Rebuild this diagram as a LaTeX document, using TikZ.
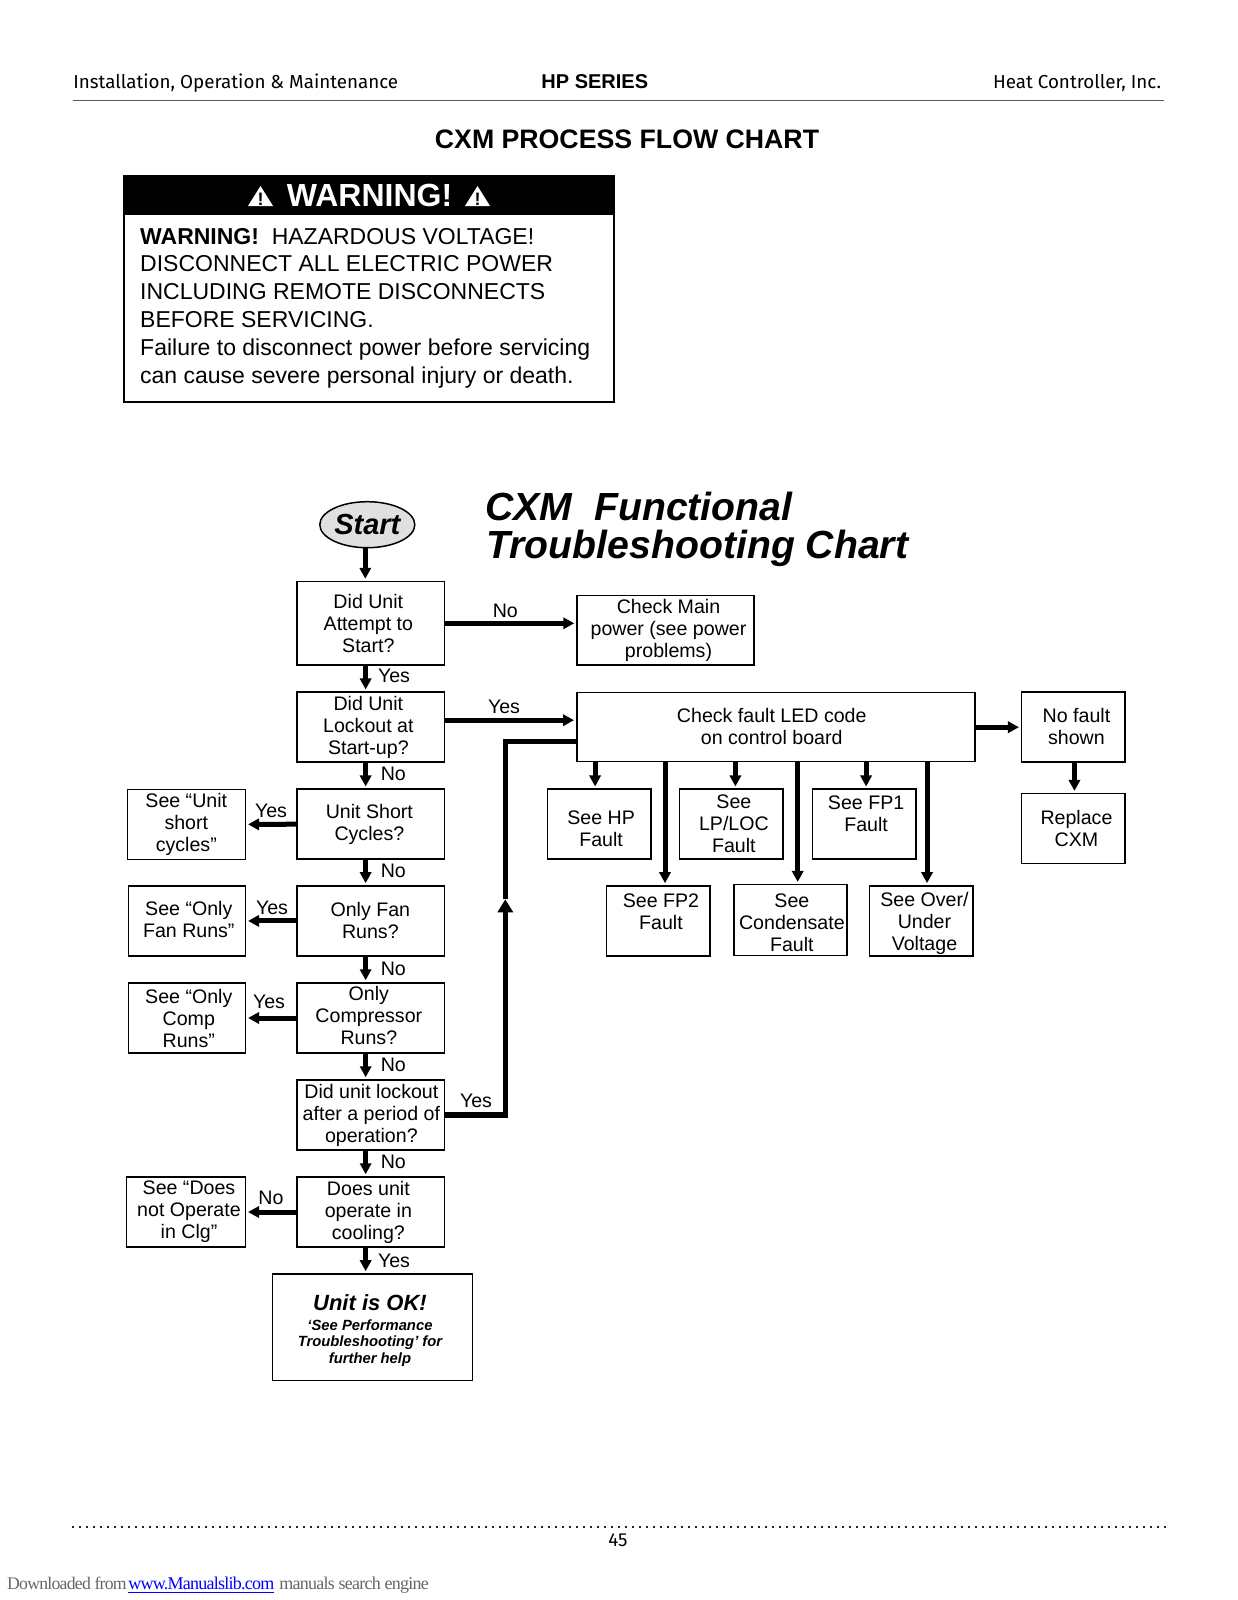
\documentclass[tikz,border=0pt]{standalone}
\usepackage{fontspec}
\setmainfont{Liberation Sans}
\newfontfamily\headfont{Fira Sans}
\newfontfamily\dlfont[LetterSpace=-4.2]{Liberation Serif}
\usepackage{xcolor}
\usetikzlibrary{shapes,shapes.geometric,arrows.meta,positioning,calc}

\begin{document}
\begin{tikzpicture}[
    x=0.5pt, y=-0.5pt,
    qbox/.style={rectangle, draw, line width=0.75pt, minimum width=73.85pt, minimum height=35pt, align=center, inner sep=0pt, font=\fontsize{9.8}{11}\selectfont},
    seebox/.style={qbox, minimum width=59pt},
    faultbox/.style={qbox, minimum width=51.75pt},
    tleft/.style={execute at end node={\kern#1pt\relax}},
    tright/.style={execute at begin node={\kern#1pt\relax}},
    note/.style={anchor=base, inner sep=0pt, font=\fontsize{9.8}{11}\selectfont},
    headtext/.style={anchor=base, inner sep=0pt, font=\fontsize{9.4}{11}\headfont},
    flow/.style={-{Triangle[length=5.5pt,width=5.6pt]}, line width=2.5pt, shorten >=1pt},
    rule/.style={line width=0.75pt, draw=black!65},
    dltext/.style={anchor=base west, inner sep=0pt, font=\fontsize{9}{11}\dlfont}
]
    \useasboundingbox (0,0) rectangle (1237,1600);

    % Page header
    \node[headtext, anchor=base west] (hdleft) at (73,88.3) {Installation, Operation \& Maintenance};
    \node[headtext, font=\fontsize{10}{11}\selectfont\bfseries] (hdmid) at (594.8,88.3) {HP SERIES};
    \node[headtext, anchor=base east] (hdright) at (1161.5,88.3) {Heat Controller, Inc.};
    \draw[rule] (73,100.7) -- (1164.3,100.7);
    \node[anchor=base, inner sep=0pt, font=\fontsize{13.35}{15}\selectfont\bfseries] (pagetitle) at (627,148.7) {CXM PROCESS FLOW CHART};

    % Warning panel
    \node[rectangle, draw, line width=0.9pt, minimum width=245pt, minimum height=113pt, anchor=north west] (warnframe) at (123.3,175) {};
    \node[rectangle, fill=black, minimum width=245pt, minimum height=19.7pt, inner sep=0pt, anchor=north west] (warnhead) at (123.3,175) {};
    \node[anchor=base, inner sep=0pt, text=white, font=\fontsize{16}{18}\selectfont\bfseries] (warntitle) at (369.5,206.5) {WARNING!};
    \fill[white] (260.5,186) -- (273,206) -- (248,206) -- cycle;
    \fill[white] (477.5,186) -- (490,206) -- (465,206) -- cycle;
    \node[anchor=base, inner sep=0pt, font=\fontsize{9}{9}\selectfont\bfseries] (warnmarka) at (260.5,205) {!};
    \node[anchor=base, inner sep=0pt, font=\fontsize{9}{9}\selectfont\bfseries] (warnmarkb) at (477.5,205) {!};
    \node[anchor=west, inner sep=0pt, align=left, font=\fontsize{11.5}{13.9}\selectfont] (warntext) at (139.8,308) {\textbf{WARNING!}\ \ HAZARDOUS VOLTAGE!\\DISCONNECT ALL ELECTRIC POWER\\INCLUDING REMOTE DISCONNECTS\\BEFORE SERVICING.\\Failure to disconnect power before servicing\\can cause severe personal injury or death.};

    % Chart title
    \node[anchor=base west, inner sep=0pt, font=\fontsize{19.6}{19}\selectfont\bfseries\itshape] (charttitlea) at (485,520) {CXM\ \ Functional};
    \node[anchor=base west, inner sep=0pt, font=\fontsize{19.6}{19}\selectfont\bfseries\itshape] (charttitleb) at (486,558) {Troubleshooting Chart};

    % Main column of questions
    \node[ellipse, draw, line width=0.75pt, fill=black!12, minimum width=47.5pt, minimum height=23pt, inner sep=0pt, font=\fontsize{14.5}{16}\selectfont\bfseries\itshape] (unitstart) at (367.3,524.7) {Start};
    \node[qbox, tleft=2.5, minimum height=41.75pt] (attempt) at (370.85,623.3) {Did Unit\\Attempt to\\Start?};
    \node[qbox, tleft=2.5] (lockout) at (370.85,727.2) {Did Unit\\Lockout at\\Start-up?};
    \node[qbox, tleft=1.5] (shortcyc) at (370.85,824.2) {Unit Short\\Cycles?};
    \node[qbox, tleft=0.5] (fanruns) at (370.85,920.9) {Only Fan\\Runs?};
    \node[qbox, tleft=2] (compruns) at (370.85,1018) {Only\\Compressor\\Runs?\rule[-2.5pt]{0pt}{0pt}};
    \node[qbox, tright=0.5] (lockperiod) at (370.85,1115) {Did unit lockout\\after a period of\\operation?};
    \node[qbox, tleft=2.5] (cooling) at (370.85,1212) {Does unit\\operate in\\cooling?};
    \node[qbox, tleft=2.5, minimum width=100.2pt, minimum height=53.35pt] (unitok) at (372.5,1327.3) {\rule{0pt}{11pt}{\fontsize{11}{13}\selectfont\bfseries\itshape Unit is OK!}\\[-1pt]{\fontsize{7.4}{8.5}\selectfont\bfseries\itshape `See Performance}\\[-2.85pt]{\fontsize{7.4}{8.5}\selectfont\bfseries\itshape Troubleshooting' for}\\[-2.85pt]{\fontsize{7.4}{8.5}\selectfont\bfseries\itshape further help}};

    % Left side: see boxes
    \node[seebox] (seeunit) at (186.3,824.4) {See ``Unit\\short\\cycles''};
    \node[seebox, tright=2, minimum width=58.5pt] (seefan) at (186.8,920.9) {See ``Only\\Fan Runs''\rule[-1.5pt]{0pt}{0pt}};
    \node[seebox, tright=2, minimum width=58.5pt] (seecomp) at (186.8,1018) {See ``Only\\Comp\\Runs''};
    \node[seebox, tright=3, minimum width=59.3pt] (seeclg) at (186,1212) {See ``Does\\not Operate\\in Clg''};

    % Right side: fault boxes
    \node[qbox, tright=3, minimum width=88.5pt, minimum height=34.85pt] (checkmain) at (665.5,630.1) {Check Main\\power (see power\\problems)};
    \node[qbox, tleft=4, minimum width=199pt, minimum height=34.5pt] (checkled) at (775.75,727.2) {Check fault LED code\\on control board\rule[-1pt]{0pt}{0pt}};
    \node[faultbox, tright=3] (nofault) at (1073.45,727.2) {No fault\\shown\rule[-1pt]{0pt}{0pt}};
    \node[faultbox, tright=3] (replace) at (1073.45,828.65) {Replace\\CXM};
    \node[faultbox, tright=2] (hpfault) at (599.1,824.2) {\rule{0pt}{11pt}See HP\\Fault};
    \node[faultbox, tright=2.5] (lpfault) at (731.4,824.2) {See\\LP/LOC\\Fault};
    \node[faultbox, tright=2] (fpone) at (864.1,824.2) {See FP1\\Fault\\\mbox{}};
    \node[faultbox, tright=3] (fptwo) at (658,920.9) {\rule{0pt}{9pt}See FP2\\Fault\\\mbox{}};
    \node[faultbox, tright=1.4, minimum width=56.6pt, minimum height=35.5pt] (condens) at (790.5,920.2) {\rule{0pt}{9.5pt}See\\Condensate\\Fault};
    \node[faultbox, tright=3] (overvolt) at (921.45,920.9) {\rule{0pt}{10pt}See Over/\\Under\\Voltage};

    % Flow down the main column
    \draw[flow] ([xshift=-1pt]unitstart.south) -- ([xshift=-1pt]unitstart.south |- attempt.north);
    \draw[flow] ([xshift=-2.6pt]attempt.south) -- ([xshift=-2.6pt]lockout.north);
    \draw[flow] ([xshift=-2.6pt]lockout.south) -- ([xshift=-2.6pt]shortcyc.north);
    \draw[flow] ([xshift=-2.6pt]shortcyc.south) -- ([xshift=-2.6pt]fanruns.north);
    \draw[flow] ([xshift=-2.6pt]fanruns.south) -- ([xshift=-2.6pt]compruns.north);
    \draw[flow] ([xshift=-2.6pt]compruns.south) -- ([xshift=-2.6pt]lockperiod.north);
    \draw[flow] ([xshift=-2.6pt]lockperiod.south) -- ([xshift=-2.6pt]cooling.north);
    \draw[flow] ([xshift=-2.6pt]cooling.south) -- ([xshift=-2.6pt]cooling.south |- unitok.north);

    % Flow to the left
    \draw[flow] (shortcyc.west) -- (seeunit.east);
    \draw[flow] (fanruns.west) -- (seefan.east);
    \draw[flow] (compruns.west) -- (seecomp.east);
    \draw[flow] (cooling.west) -- (seeclg.east);

    % Flow to the right
    \draw[flow] (attempt.east) -- (attempt.east -| checkmain.west);
    \draw[flow] ([yshift=3.5pt]lockout.east) -- ([yshift=3.5pt]checkled.west);
    \draw[flow] (checkled.east) -- (nofault.west);
    \draw[flow] ([xshift=0.5pt]nofault.south) -- ([xshift=0.5pt]replace.north);

    % Return line from the period lockout
    \coordinate (retmid) at (505.3,899.3);
    \coordinate (rettop) at (505.3,741.7);
    \draw[flow, -{Triangle[length=6.5pt,width=7.5pt]}, line width=2.7pt, shorten >=0pt] (lockperiod.east) -| (retmid);
    \draw[line width=2.7pt] (retmid) -- (rettop) -- (rettop -| checkled.west);

    % Flow down from the LED box
    \draw[flow] ([xshift=-2pt]hpfault.north |- checkled.south) -- ([xshift=-2pt]hpfault.north);
    \draw[flow] ([xshift=3.5pt]fptwo.north |- checkled.south) -- ([xshift=3.5pt]fptwo.north);
    \draw[flow] ([xshift=2pt]lpfault.north |- checkled.south) -- ([xshift=2pt]lpfault.north);
    \draw[flow] ([xshift=3.6pt]condens.north |- checkled.south) -- ([xshift=3.6pt]condens.north);
    \draw[flow] ([xshift=1pt]fpone.north |- checkled.south) -- ([xshift=1pt]fpone.north);
    \draw[flow] ([xshift=2.8pt]overvolt.north |- checkled.south) -- ([xshift=2.8pt]overvolt.north);

    % Yes and No labels
    \node[note] (nomain) at (505.3,617.7) {No};
    \node[note] (yesa) at (394,682.7) {Yes};
    \node[note] (yesled) at (504,713.7) {Yes};
    \node[note] (nob) at (393.3,780) {No};
    \node[note] (yesunit) at (271,817) {Yes};
    \node[note] (noc) at (393.3,877.7) {No};
    \node[note] (yesfan) at (272,914) {Yes};
    \node[note] (nod) at (393.3,975) {No};
    \node[note] (yescomp) at (269,1008.7) {Yes};
    \node[note] (noe) at (393.3,1071.7) {No};
    \node[note] (yesret) at (476,1107.7) {Yes};
    \node[note] (nof) at (393.3,1168.7) {No};
    \node[note] (noclg) at (271,1204.7) {No};
    \node[note] (yesok) at (394,1267.7) {Yes};

    % Page footer
    \draw[line width=1pt, dash pattern=on 1pt off 2.5pt, black!85] (71.7,1526.7) -- (1167,1526.7);
    \node[headtext] (pagenum) at (618,1546) {45};
    \node[dltext, text=black!60, font=\fontsize{8.85}{11}\dlfont] (dlfrom) at (6.7,1589) {Downloaded from};
    \node[dltext, text=blue] (dllink) at (128,1589) {\underline{www.Manualslib.com}};
    \node[dltext, text=black!60] (dlrest) at (279,1589) {manuals search engine};
\end{tikzpicture}
\end{document}
